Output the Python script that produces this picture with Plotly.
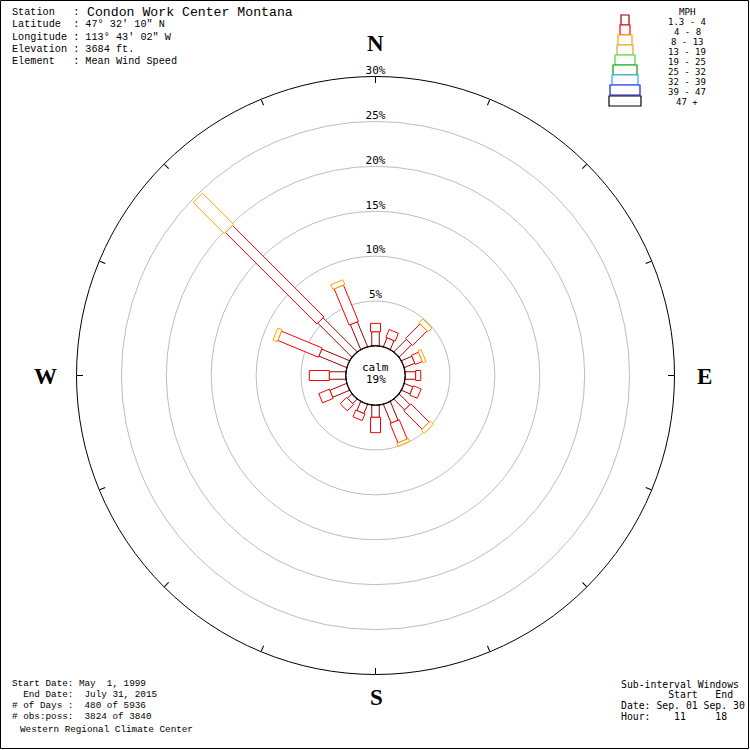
import math
import plotly.graph_objects as go

# ---------------- data ----------------
DIRECTIONS = ['N', 'NNE', 'NE', 'ENE', 'E', 'ESE', 'SE', 'SSE',
              'S', 'SSW', 'SW', 'WSW', 'W', 'WNW', 'NW', 'NNW']
DIR_DEG = [0, 22.5, 45, 67.5, 90, 112.5, 135, 157.5,
           180, 202.5, 225, 247.5, 270, 292.5, 315, 337.5]

# percent of observations per direction and speed class (MPH)
FREQ_1_4 = [1.59, 1.09, 2.00, 1.28, 1.19, 1.06, 1.72, 2.28,
            1.37, 1.12, 0.72, 2.05, 1.86, 3.37, 5.39, 3.02]
FREQ_4_8 = [0.93, 0.94, 2.30, 0.86, 0.56, 0.92, 2.90, 2.33,
            1.71, 0.80, 1.00, 1.27, 2.22, 4.90, 14.40, 4.37]
FREQ_8_13 = [0.00, 0.00, 0.60, 0.37, 0.00, 0.00, 0.50, 0.33,
             0.00, 0.00, 0.00, 0.00, 0.00, 0.50, 4.90, 0.56]
CALM_PCT = 19

SPEED_CLASSES = ['1.3 - 4', '4 - 8', '8 - 13', '13 - 19', '19 - 25',
                 '25 - 32', '32 - 39', '39 - 47', '47 +']
CLASS_COLORS = ['#a00000', '#ff0000', '#ffa500', '#d9a13a', '#33e033',
                '#00a000', '#30a8f0', '#1818e8', '#000000']

RING_VALUES = [5, 10, 15, 20, 25, 30]
RING_LABELS = ['5%', '10%', '15%', '20%', '25%', '30%']

HEADER_LINES = ['Latitude  : 47\u00b0 32\' 10" N',
                'Longitude : 113\u00b0 43\' 02" W',
                'Elevation : 3684 ft.',
                'Element   : Mean Wind Speed']
STATION = 'Condon Work Center Montana'
FOOT_LEFT = ['Start Date: May  1, 1999',
             '  End Date:  July 31, 2015',
             '# of Days :  480 of 5936',
             '# obs:poss:  3824 of 3840']
FOOT_RIGHT = ['Sub-interval Windows',
              '        Start   End',
              'Date: Sep. 01 Sep. 30',
              'Hour:    11     18']

# ---------------- layout constants ----------------
W = H = 750
CX, CY = 375.5, 375.5          # rose centre (px)
OUTER_PX = 299.0               # radius of 30% circle
CALM_PX = 29.5                 # radius of calm circle
RMAX = 30
K = (OUTER_PX - CALM_PX) / RMAX
HALF_W = [3.75, 5.0, 6.5]
MONO = 'Liberation Mono'
PIX = 'DejaVu Sans Mono'


def nb(s):
    return s.replace(' ', '\u00a0')


def px(x):
    return x / W


def py(y):
    return 1 - y / H


def rect_polar(theta, p0, p1, hw):
    d0 = CALM_PX + p0 * K
    d1 = CALM_PX + p1 * K
    pts = [(d0, -hw), (d1, -hw), (d1, hw), (d0, hw), (d0, -hw)]
    rr, tt = [], []
    for d, off in pts:
        rad = math.hypot(d, off)
        rr.append((rad - CALM_PX) / K)
        tt.append(theta + math.degrees(math.atan2(off, d)))
    return rr, tt


fig = go.Figure()

series = [FREQ_1_4, FREQ_4_8, FREQ_8_13]
for i, th in enumerate(DIR_DEG):
    cum = 0.0
    for k, s in enumerate(series):
        v = s[i]
        if v <= 0:
            continue
        rr, tt = rect_polar(th, cum, cum + v, HALF_W[k])
        fig.add_trace(go.Scatterpolar(
            r=rr, theta=tt, mode='lines', fill='toself', fillcolor='white',
            line=dict(color=CLASS_COLORS[k], width=1),
            hoverinfo='skip', showlegend=False))
        cum += v

# calm circle
fig.add_trace(go.Scatterpolar(
    r=[0] * 361, theta=list(range(361)), mode='lines',
    line=dict(color='black', width=1.6), hoverinfo='skip', showlegend=False))

# ring labels
fig.add_trace(go.Scatterpolar(
    r=RING_VALUES, theta=[0] * len(RING_VALUES), mode='text',
    text=RING_LABELS, textposition='top center',
    textfont=dict(family=PIX, size=11, color='black'),
    cliponaxis=False, hoverinfo='skip', showlegend=False))

dom_r = OUTER_PX
fig.update_layout(
    width=W, height=H, margin=dict(l=0, r=0, t=0, b=0),
    paper_bgcolor='white', plot_bgcolor='white', showlegend=False,
    hovermode=False,
    polar=dict(
        domain=dict(x=[px(CX - dom_r), px(CX + dom_r)],
                    y=[py(CY + dom_r), py(CY - dom_r)]),
        hole=CALM_PX / OUTER_PX,
        bgcolor='white',
        radialaxis=dict(range=[0, RMAX], tickvals=RING_VALUES[:-1],
                        showticklabels=False, ticks='', showline=False,
                        gridcolor='#bdbdbd', gridwidth=1,
                        layer='below traces'),
        angularaxis=dict(rotation=90, direction='clockwise',
                         tickmode='array', tickvals=DIR_DEG,
                         showticklabels=False, ticks='inside', ticklen=6,
                         tickcolor='black', tickwidth=1,
                         showline=True, linecolor='black', linewidth=1,
                         showgrid=False, layer='below traces'),
    ),
)

ann = []


def add_text(text, x, y, size, family, xanchor='left', color='black', bold=False):
    t = nb(text)
    if bold:
        t = '<b>' + t + '</b>'
    ann.append(dict(text=t, x=px(x), y=py(y), xref='paper', yref='paper',
                    xanchor=xanchor, yanchor='middle', showarrow=False,
                    font=dict(family=family, size=size, color=color)))


# header
add_text('Station   :', 10, 13, 10.2, MONO)
add_text(STATION, 85, 12.5, 13.2, MONO)
for j, line in enumerate(HEADER_LINES):
    add_text(line, 10, 25 + 12 * j, 10.2, MONO)

# compass letters
add_text('N', 375.5, 43, 23, 'Liberation Serif', 'center', bold=True)
add_text('S', 376, 697, 23, 'Liberation Serif', 'center', bold=True)
add_text('W', 45.5, 376, 23, 'Liberation Serif', 'center', bold=True)
add_text('E', 704, 376, 23, 'Liberation Serif', 'center', bold=True)

# calm text
add_text('calm', 375.5, 367, 11, PIX, 'center')
add_text(f'{CALM_PCT}%', 375.5, 379, 11, PIX, 'center')

# footer left
for j, line in enumerate(FOOT_LEFT):
    add_text(line, 10, 683 + 11 * j, 9.3, MONO)
add_text('Western Regional Climate Center', 18, 729, 9.3, MONO)

# footer right
for j, line in enumerate(FOOT_RIGHT):
    add_text(line, 619, 684 + 10.7 * j, 9.8, PIX)

# legend
add_text('MPH', 687, 11, 9.2, PIX, 'center')
for j, lab in enumerate(SPEED_CLASSES):
    add_text(lab, 687, 22.4 + 9.95 * j, 9.0, PIX, 'center')

LEG_W = [8, 10, 14, 16, 20, 24, 26, 30, 32]
shapes = []
for j, (wd, col) in enumerate(zip(LEG_W, CLASS_COLORS)):
    y0 = 15 + 10 * j + (1 if j == 8 else 0)
    shapes.append(dict(type='rect', xref='paper', yref='paper',
                       x0=px(625 - wd / 2), x1=px(625 + wd / 2),
                       y0=py(y0), y1=py(y0 + 10),
                       line=dict(color=col, width=1.2), fillcolor='white'))

# frame
shapes.append(dict(type='rect', xref='paper', yref='paper',
                   x0=px(0.5), x1=px(W - 1.5), y0=py(H - 1.5), y1=py(0.5),
                   line=dict(color='black', width=1)))

fig.update_layout(annotations=ann, shapes=shapes)
fig.write_html('out.html',
               config={'displayModeBar': False, 'staticPlot': True},
               post_script="document.body.style.margin='0';"
                           "document.body.style.overflow='hidden';")
